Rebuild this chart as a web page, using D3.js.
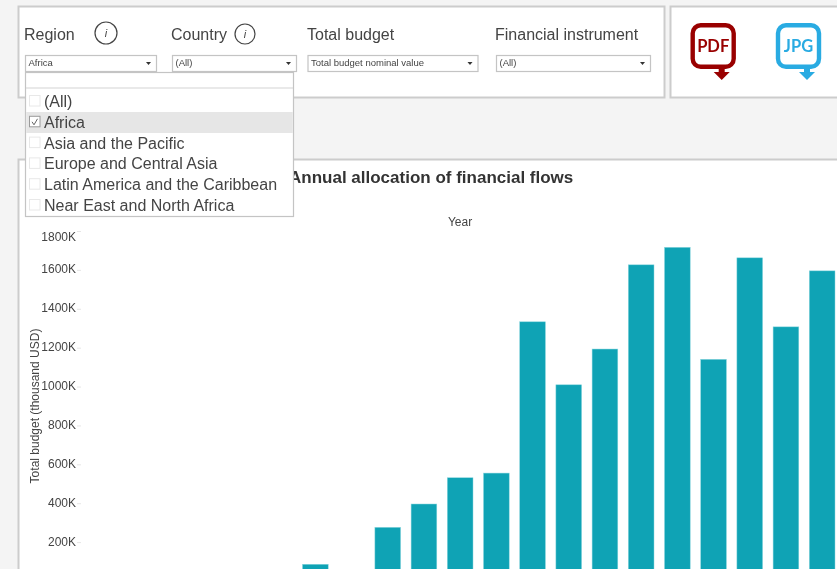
<!DOCTYPE html>
<html>
<head>
<meta charset="utf-8">
<script src="https://cdn.jsdelivr.net/npm/d3@7"></script>
<style>
  html, body { margin: 0; padding: 0; background: #f4f4f4; overflow: hidden; }
  svg { display: block; filter: blur(0.5px); font-family: "Liberation Sans", Arial, sans-serif; }
  .tick text { font-size: 12px; fill: #444; }
  .tick line { stroke: #e6e6e6; }
</style>
</head>
<body>
<svg id="chart" width="837" height="569"></svg>
<script>
// the year labels are cut off in the picture, so bars are just numbered slots
var barSlots = [1, 2, 3, 4, 5, 6, 7, 8, 9, 10, 11, 12, 13, 14, 15];
var budgetValues = [86, 0, 276, 396, 531, 555, 1333, 1009, 1193, 1626, 1716, 1140, 1662, 1307, 1595];
var budgetTicks = [0, 200, 400, 600, 800, 1000, 1200, 1400, 1600, 1800];
var regionOptions = ["(All)", "Africa", "Asia and the Pacific", "Europe and Central Asia", "Latin America and the Caribbean", "Near East and North Africa"];
var filterLabels = ["Region", "Country", "Total budget", "Financial instrument"];
var filterValues = ["Africa", "(All)", "Total budget nominal value", "(All)"];

(function () {
  var svg = d3.select("#chart");

  function panel(x, y, w, h) {
    svg.append("rect")
      .attr("x", x).attr("y", y).attr("width", w).attr("height", h)
      .attr("fill", "#fff").attr("stroke", "#cccccc").attr("stroke-width", 2);
  }

  function label(x, y, str, size, color, weight) {
    return svg.append("text")
      .attr("x", x).attr("y", y)
      .attr("fill", color)
      .style("font-size", size + "px")
      .style("font-weight", weight || "normal")
      .text(str);
  }

  panel(18.5, 6.5, 646, 91);
  panel(670.5, 6.5, 200, 91);
  panel(18.5, 159.5, 860, 440);

  // filter headings
  var labelX = [24, 171, 307, 495];
  filterLabels.forEach(function (d, i) {
    label(labelX[i], 40, d, 16, "#444");
  });

  // info icons
  [[106, 33, 11], [245, 34, 10]].forEach(function (c) {
    svg.append("circle").attr("cx", c[0]).attr("cy", c[1]).attr("r", c[2])
      .attr("fill", "none").attr("stroke", "#444").attr("stroke-width", 1.2);
    label(c[0], c[1] + 4, "i", 11, "#444").attr("text-anchor", "middle").style("font-style", "italic");
  });

  // select boxes
  var boxes = [[25.5, 131], [172.5, 124], [308, 170], [496.5, 154]];
  boxes.forEach(function (b, i) {
    svg.append("rect")
      .attr("x", b[0]).attr("y", 55.5).attr("width", b[1]).attr("height", 16)
      .attr("fill", "#fff").attr("stroke", "#c4c4c4").attr("stroke-width", 1.2);
    label(b[0] + 3, 66, filterValues[i], 9.5, "#444");
    var cx = b[0] + b[1] - 8;
    svg.append("path")
      .attr("d", "M" + (cx - 2.5) + ",62 h5 l-2.5,3 z")
      .attr("fill", "#333");
  });

  // bars
  var x = d3.scaleBand()
    .domain(barSlots)
    .range([297.25, 840.25])
    .paddingInner(0.29)
    .paddingOuter(0.145);

  var y = d3.scaleLinear()
    .domain([0, 1800])
    .range([581, 231]);

  svg.append("g")
    .selectAll("rect")
    .data(budgetValues)
    .enter().append("rect")
    .attr("x", function (d, i) { return x(barSlots[i]); })
    .attr("y", function (d) { return y(d); })
    .attr("width", x.bandwidth())
    .attr("height", function (d) { return y(0) - y(d); })
    .attr("fill", "#0fa3b5")
    .attr("stroke", "#8ad6de")
    .attr("stroke-width", 0.5);

  var axis = svg.append("g")
    .attr("transform", "translate(81,0)")
    .call(d3.axisLeft(y)
      .tickValues(budgetTicks)
      .tickSize(4)
      .tickPadding(1)
      .tickFormat(function (d) { return d + "K"; }));
  axis.select(".domain").remove();

  // first and last tick labels are pushed inside the plot
  axis.selectAll(".tick text")
    .attr("dy", function (d) {
      if (d == 1800) return "0.82em";
      if (d == 0) return "-0.2em";
      return "0.25em";
    });

  label(289, 183, "Annual allocation of financial flows", 17, "#333", "bold");
  label(460, 226, "Year", 12, "#444").attr("text-anchor", "middle");
  label(0, 0, "Total budget (thousand USD)", 12, "#444")
    .attr("text-anchor", "middle")
    .attr("transform", "translate(39,406) rotate(-90)");

  // open dropdown sits over the panels
  svg.append("rect")
    .attr("x", 25.5).attr("y", 72.5).attr("width", 268).attr("height", 144)
    .attr("fill", "#fff").attr("stroke", "#c4c4c4").attr("stroke-width", 1.2);
  svg.append("line")
    .attr("x1", 26).attr("x2", 293).attr("y1", 88).attr("y2", 88)
    .attr("stroke", "#d4d4d4").attr("stroke-width", 1.2);
  svg.append("rect")
    .attr("x", 26.2).attr("y", 112).attr("width", 266.6).attr("height", 21)
    .attr("fill", "#e6e6e6");

  regionOptions.forEach(function (d, i) {
    var rowY = 101 + i * 20.8;
    var picked = d == filterValues[0];
    svg.append("rect")
      .attr("x", 29.5).attr("y", rowY - 5.5).attr("width", 10.5).attr("height", 10.5)
      .attr("fill", "#fff")
      .attr("stroke", picked ? "#9a9a9a" : "#e8e8e8");
    if (picked) {
      svg.append("path")
        .attr("d", "M32," + rowY + " l2,3 l3.5,-6")
        .attr("fill", "none").attr("stroke", "#666");
    }
    label(44, rowY + 6, d, 16, "#444");
  });

  // export icons
  function exportIcon(left, color, str) {
    var w = 41, h = 41.5, top = 25.3;
    var ax = left + 29;
    svg.append("rect")
      .attr("x", left).attr("y", top).attr("width", w).attr("height", h).attr("rx", 8)
      .attr("fill", "#fff").attr("stroke", color).attr("stroke-width", 4.4);
    svg.append("path")
      .attr("d", "M" + (ax - 3) + ",69 h6 v3 h5 l-8,8 l-8,-8 h5 z")
      .attr("fill", color);
    label(left + w / 2, top + 27, str, 16.5, color, "bold")
      .attr("text-anchor", "middle")
      .style("font-family", "Lato, sans-serif");
  }
  exportIcon(692.7, "#990000", "PDF");
  exportIcon(778, "#29abe2", "JPG");
})();
</script>
</body>
</html>
